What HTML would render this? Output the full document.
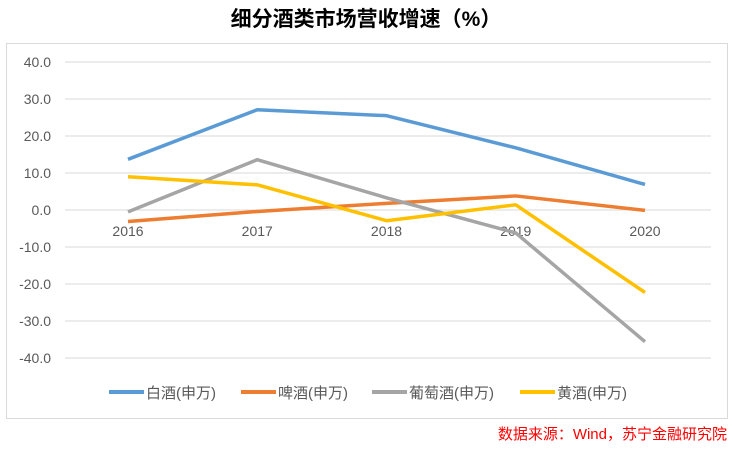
<!DOCTYPE html>
<html><head><meta charset="utf-8"><style>
body{margin:0;background:#fff;width:733px;height:444px;overflow:hidden;font-family:"Liberation Sans","Noto Sans CJK SC",sans-serif}
</style></head><body>
<svg width="733" height="444">
<text x="366" y="26" text-anchor="middle" font-size="21" font-weight="bold" fill="#000" font-family="Liberation Sans, Noto Sans CJK SC, sans-serif">细分酒类市场营收增速（%）</text>
<rect x="6.5" y="43.5" width="721" height="375" fill="none" stroke="#d9d9d9"/>
<g id="grid"></g><g id="lines"></g><g id="legend"></g>
<text x="727" y="439" text-anchor="end" font-size="15" fill="#ff0000" font-family="Liberation Sans, Noto Sans CJK SC, sans-serif">数据来源：Wind，苏宁金融研究院</text>
</svg>
<script>
const categories=["2016","2017","2018","2019","2020"];
const ticks=[40,30,20,10,0,-10,-20,-30,-40];
const baijiu=[13.7,27.1,25.5,16.8,6.9];
const pijiu=[-3.1,-0.4,1.8,3.8,-0.1];
const putaojiu=[-0.5,13.6,3.3,-6.2,-35.6];
const huangjiu=[9.0,6.8,-2.9,1.4,-22.3];
const seriesNames=["白酒(申万)","啤酒(申万)","葡萄酒(申万)","黄酒(申万)"];
const NS="http://www.w3.org/2000/svg";
const y=v=>210-v*3.7;
const x=i=>128+i*129.25;
function mk(t,a,p){const e=document.createElementNS(NS,t);for(const k in a)e.setAttribute(k,a[k]);p.appendChild(e);return e;}
const g=document.getElementById('grid');
ticks.forEach(t=>{
 const l=mk('line',{x1:65,x2:711,y1:y(t),y2:y(t),stroke:'#d9d9d9','stroke-width':1},g);
 
 
 const tx=mk('text',{x:51,y:y(t)+5,'text-anchor':'end','font-size':14,fill:'#595959'},g);
 tx.textContent=t.toFixed(1);
 
 
});
categories.forEach((c,i)=>{
 const tx=mk('text',{x:x(i),y:y(0)+26,'text-anchor':'middle','font-size':14,fill:'#595959'},g);
 tx.textContent=c;
 
 
});
const data=[baijiu,pijiu,putaojiu,huangjiu];
const colors=["#5b9bd5","#ed7d31","#a5a5a5","#ffc000"];
const lg=document.getElementById('lines');
data.forEach((s,k)=>{
 const p=mk('polyline',{points:s.map((v,i)=>x(i)+','+y(v)).join(' '),fill:'none',stroke:colors[k],'stroke-width':3.5,'stroke-linejoin':'round'},lg);
 
 
});
const leg=document.getElementById('legend');
const lx=[109,241,372,520];
seriesNames.forEach((n,k)=>{
 const l=mk('line',{x1:lx[k],x2:lx[k]+35,y1:392,y2:392,stroke:colors[k],'stroke-width':4},leg);
 
 
 const t=mk('text',{x:lx[k]+37,y:398,'font-size':15,fill:'#595959'},leg);
 t.textContent=n;
 
 
});
</script>
</body></html>
